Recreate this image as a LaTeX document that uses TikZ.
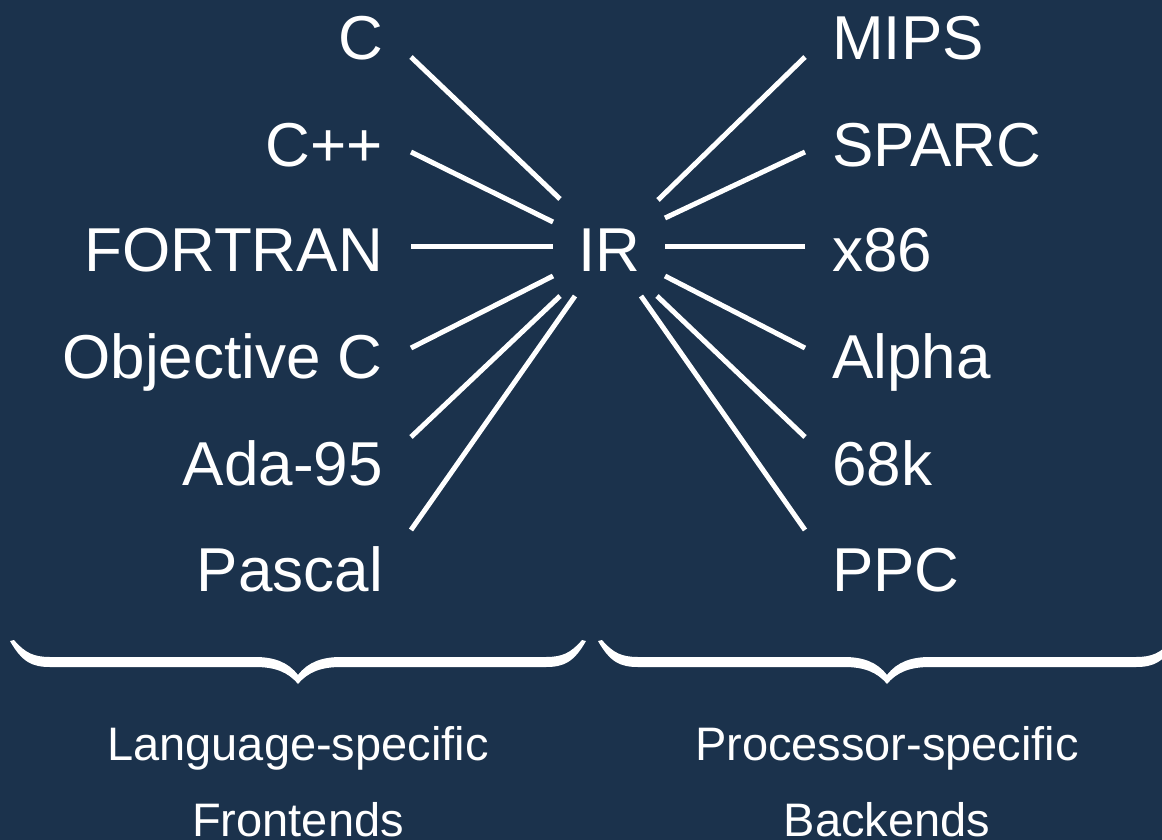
\documentclass[tikz,border=0pt]{standalone}
\usepackage{fontspec}
\setmainfont{Liberation Sans}
\definecolor{bg}{HTML}{1B324C}
\tikzset{
  big/.style={text=white,font=\fontsize{62}{70}\selectfont,inner sep=0pt},
  small/.style={text=white,font=\fontsize{47}{54}\selectfont,inner sep=0pt},
  wire/.style={white,line width=5pt,line cap=butt},
  brace/.style={fill=white,draw=none}
}
\begin{document}
\begin{tikzpicture}[x=1pt,y=-1pt]
\fill[bg] (0,0) rectangle (1162,840);
\useasboundingbox (0,0) rectangle (1162,840);
% left labels
\node[big,anchor=base east] (c)    at (383,60)  {C};
\node[big,anchor=base east] (cpp)  at (383,166) {C++};
\node[big,anchor=base east] (fort) at (383,271) {FORTRAN};
\node[big,anchor=base east] (objc) at (383,378) {Objective C};
\node[big,anchor=base east] (ada)  at (383,485) {Ada-95};
\node[big,anchor=base east] (pas)  at (383,591) {Pascal};
% right labels
\node[big,anchor=base west] (mips)  at (832,60)  {MIPS};
\node[big,anchor=base west] (sparc) at (832,166) {SPARC};
\node[big,anchor=base west] (x86)   at (832,271) {x86};
\node[big,anchor=base west] (alpha) at (832,378) {Alpha};
\node[big,anchor=base west] (k68)   at (832,485) {68k};
\node[big,anchor=base west] (ppc)   at (832,591) {PPC};
% IR
\node[big,anchor=base west] (ir) at (578,271) {IR};
% line end coordinates
\coordinate (a1) at (411,57);  \coordinate (b1) at (560,199);
\coordinate (a2) at (411,152); \coordinate (b2) at (553,222);
\coordinate (a3) at (411,246); \coordinate (b3) at (553,246);
\coordinate (a4) at (411,348); \coordinate (b4) at (553,276);
\coordinate (a5) at (411,437); \coordinate (b5) at (560,296);
\coordinate (a6) at (411,530); \coordinate (b6) at (575,296);
\coordinate (d1) at (805,57);  \coordinate (e1) at (658,200);
\coordinate (d2) at (805,152); \coordinate (e2) at (665,218);
\coordinate (d3) at (805,246); \coordinate (e3) at (665,246);
\coordinate (d4) at (805,348); \coordinate (e4) at (665,276);
\coordinate (d5) at (805,437); \coordinate (e5) at (657,296);
\coordinate (d6) at (805,530); \coordinate (e6) at (641,296);
\foreach \i in {1,...,6}{
  \draw[wire] (a\i) -- (b\i);
  \draw[wire] (d\i) -- (e\i);
}
% braces
\fill[brace] (10,641) .. controls (22,662) and (32,667) .. (50,667)
  -- (255,667) .. controls (275,667) and (288,672) .. (298,684)
  .. controls (308,672) and (321,667) .. (341,667)
  -- (546,667) .. controls (564,667) and (574,662) .. (586,641)
  -- (582,640) .. controls (571,653) and (562,657) .. (546,657)
  -- (341,657) .. controls (322,657) and (308,662) .. (298,675)
  .. controls (288,662) and (274,657) .. (255,657)
  -- (50,657) .. controls (34,657) and (25,653) .. (14,640) -- cycle;
\fill[brace] (598,641) .. controls (610,662) and (620,667) .. (638,667)
  -- (844,667) .. controls (864,667) and (877,672) .. (887,684)
  .. controls (897,672) and (910,667) .. (930,667)
  -- (1136,667) .. controls (1154,667) and (1164,662) .. (1176,641)
  -- (1172,640) .. controls (1161,653) and (1152,657) .. (1136,657)
  -- (930,657) .. controls (911,657) and (897,662) .. (887,675)
  .. controls (877,662) and (863,657) .. (844,657)
  -- (638,657) .. controls (622,657) and (613,653) .. (602,640) -- cycle;
% bottom labels
\node[small,anchor=base] (lang) at (298,760) {Language-specific};
\node[small,anchor=base] (fe)   at (298,836) {Frontends};
\node[small,anchor=base] (proc) at (887,760) {Processor-specific};
\node[small,anchor=base] (be)   at (887,836) {Backends};
\end{tikzpicture}
\end{document}
